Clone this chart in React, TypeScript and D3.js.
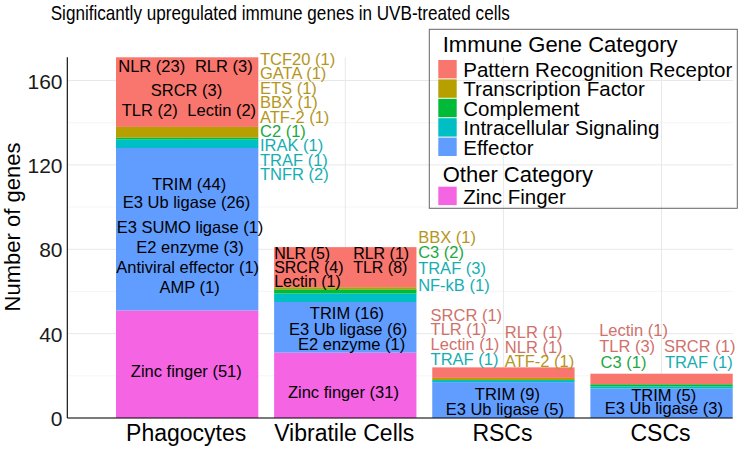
import React from "react";
import * as d3 from "d3";

// ---- data ----
const categories = ["Phagocytes", "Vibratile Cells", "RSCs", "CSCs"];
const seriesKeys = ["zinc", "effector", "intracellular", "complement", "tf", "prr"];
const zincFinger = [51, 31, 0, 0];
const effector = [77, 24, 17, 14];
const intracellularSignaling = [4, 4, 1, 1];
const complement = [1, 2, 0, 1];
const transcriptionFactor = [5, 1, 1, 0];
const patternRecognition = [33, 19, 5, 5];
const yMax = 171;
const yTicks = [0, 40, 80, 120, 160];
const yMinorTicks = [20, 60, 100, 140];
const legendImmuneKeys = ["prr", "tf", "complement", "intracellular", "effector"];
const legendImmuneNames = ["Pattern Recognition Receptor", "Transcription Factor", "Complement", "Intracellular Signaling", "Effector"];
const legendOtherKeys = ["zinc"];
const legendOtherNames = ["Zinc Finger"];
const title = "Significantly upregulated immune genes in UVB-treated cells";
const yTitle = "Number of genes";

const fillColors: Record<string, string> = {
  prr: "#F8766D",
  tf: "#B79F00",
  complement: "#00BA38",
  intracellular: "#00BFC4",
  effector: "#619CFF",
  zinc: "#F564E3",
};
const textColors: Record<string, string> = {
  prr: "#D0716A",
  tf: "#B5961C",
  complement: "#1DA83F",
  intracellular: "#16AEB2",
  in: "#000000",
};

// gene labels: category index, text, colour group, anchor, x offset from band start (px), y in gene units
type Lab = { c: number; t: string; g: string; a: "start" | "middle"; dx: number; v: number; fs?: number };
const geneLabels: Lab[] = [
  { c: 0, t: "NLR (23)", g: "in", a: "middle", dx: 35.7, v: 164.2 },
  { c: 0, t: "RLR (3)", g: "in", a: "middle", dx: 107.8, v: 164.2 },
  { c: 0, t: "SRCR (3)", g: "in", a: "middle", dx: 70.5, v: 152.6 },
  { c: 0, t: "TLR (2)", g: "in", a: "middle", dx: 33.7, v: 143.2 },
  { c: 0, t: "Lectin (2)", g: "in", a: "middle", dx: 105.7, v: 143.2 },
  { c: 0, t: "TRIM (44)", g: "in", a: "middle", dx: 73, v: 108.1 },
  { c: 0, t: "E3 Ub ligase (26)", g: "in", a: "middle", dx: 70.5, v: 99.4 },
  { c: 0, t: "E3 SUMO ligase (1)", g: "in", a: "middle", dx: 74, v: 87.6 },
  { c: 0, t: "E2 enzyme (3)", g: "in", a: "middle", dx: 74, v: 78.1 },
  { c: 0, t: "Antiviral effector (1)", g: "in", a: "middle", dx: 71.7, v: 68.9 },
  { c: 0, t: "AMP (1)", g: "in", a: "middle", dx: 73.7, v: 59.4 },
  { c: 0, t: "Zinc finger (51)", g: "in", a: "middle", dx: 70.3, v: 19.6 },
  { c: 0, t: "TCF20 (1)", g: "tf", a: "start", dx: 144, v: 167.3 },
  { c: 0, t: "GATA (1)", g: "tf", a: "start", dx: 144, v: 160.6 },
  { c: 0, t: "ETS (1)", g: "tf", a: "start", dx: 144, v: 153.6 },
  { c: 0, t: "BBX (1)", g: "tf", a: "start", dx: 144, v: 146.8 },
  { c: 0, t: "ATF-2 (1)", g: "tf", a: "start", dx: 144, v: 140 },
  { c: 0, t: "C2 (1)", g: "complement", a: "start", dx: 144, v: 133.4 },
  { c: 0, t: "IRAK (1)", g: "intracellular", a: "start", dx: 144, v: 126.6 },
  { c: 0, t: "TRAF (1)", g: "intracellular", a: "start", dx: 144, v: 119.5 },
  { c: 0, t: "TNFR (2)", g: "intracellular", a: "start", dx: 144, v: 112.8 },

  { c: 1, t: "NLR (5)", g: "in", a: "start", dx: 0, v: 75.2, fs: 16 },
  { c: 1, t: "RLR (1)", g: "in", a: "start", dx: 79, v: 75.2, fs: 16 },
  { c: 1, t: "SRCR (4)", g: "in", a: "start", dx: 0, v: 68.6, fs: 16 },
  { c: 1, t: "TLR (8)", g: "in", a: "start", dx: 79, v: 68.6, fs: 16 },
  { c: 1, t: "Lectin (1)", g: "in", a: "start", dx: 0, v: 62.2, fs: 16 },
  { c: 1, t: "TRIM (16)", g: "in", a: "middle", dx: 72.8, v: 46.8 },
  { c: 1, t: "E3 Ub ligase (6)", g: "in", a: "middle", dx: 74, v: 39.3 },
  { c: 1, t: "E2 enzyme (1)", g: "in", a: "middle", dx: 77.5, v: 32.2 },
  { c: 1, t: "Zinc finger (31)", g: "in", a: "middle", dx: 69.3, v: 9.6 },
  { c: 1, t: "BBX (1)", g: "tf", a: "start", dx: 144, v: 83 },
  { c: 1, t: "C3 (2)", g: "complement", a: "start", dx: 144, v: 75.9 },
  { c: 1, t: "TRAF (3)", g: "intracellular", a: "start", dx: 144, v: 68.3 },
  { c: 1, t: "NF-kB (1)", g: "intracellular", a: "start", dx: 144, v: 60.2 },

  { c: 2, t: "SRCR (1)", g: "prr", a: "start", dx: -1.7, v: 46.1 },
  { c: 2, t: "TLR (1)", g: "prr", a: "start", dx: -1.7, v: 39.3 },
  { c: 2, t: "Lectin (1)", g: "prr", a: "start", dx: -1.7, v: 32.2 },
  { c: 2, t: "TRAF (1)", g: "intracellular", a: "start", dx: -1.7, v: 25.1 },
  { c: 2, t: "RLR (1)", g: "prr", a: "start", dx: 72.6, v: 37.8 },
  { c: 2, t: "NLR (1)", g: "prr", a: "start", dx: 72.6, v: 31.0 },
  { c: 2, t: "ATF-2 (1)", g: "tf", a: "start", dx: 72.6, v: 24.3 },
  { c: 2, t: "TRIM (9)", g: "in", a: "middle", dx: 75.1, v: 8.5 },
  { c: 2, t: "E3 Ub ligase (5)", g: "in", a: "middle", dx: 72.6, v: 1.4 },

  { c: 3, t: "Lectin (1)", g: "prr", a: "start", dx: 8.8, v: 39 },
  { c: 3, t: "TLR (3)", g: "prr", a: "start", dx: 8.8, v: 31.4 },
  { c: 3, t: "C3 (1)", g: "complement", a: "start", dx: 10.2, v: 23.6 },
  { c: 3, t: "SRCR (1)", g: "prr", a: "start", dx: 73.5, v: 31.4 },
  { c: 3, t: "TRAF (1)", g: "intracellular", a: "start", dx: 74.5, v: 23.6 },
  { c: 3, t: "TRIM (5)", g: "in", a: "middle", dx: 73.3, v: 8.1 },
  { c: 3, t: "E3 Ub ligase (3)", g: "in", a: "middle", dx: 73.5, v: 1.75 },
];

const W = 738;
const H = 449;
const FONT = "'Liberation Sans', Arial, Helvetica, sans-serif";

export default function App() {
  const panelLeft = 67.3;
  const panelRight = 732.7;
  const panelTop = 57.3;
  const panelBottom = 418;

  const x = d3.scaleBand<string>().domain(categories).range([116, 732.7]).paddingInner(0.1).paddingOuter(0);
  const y = d3.scaleLinear().domain([0, yMax]).range([panelBottom, panelTop]);

  const rows = categories.map((cat, i) => ({
    cat,
    zinc: zincFinger[i],
    effector: effector[i],
    intracellular: intracellularSignaling[i],
    complement: complement[i],
    tf: transcriptionFactor[i],
    prr: patternRecognition[i],
  }));
  const stacked = d3.stack<any>().keys(seriesKeys)(rows);

  const keySize = 18.4;
  const keyStep = 19.4;

  return (
    <svg
      width={W}
      height={H}
      style={{ position: "absolute", left: 0, top: 0, background: "#fff" }}
      fontFamily={FONT}
    >
      <rect x={0} y={0} width={W} height={H} fill="#fff" />
      {/* grid */}
      {yMinorTicks.map((t) => (
        <line key={"mn" + t} x1={panelLeft} x2={panelRight} y1={y(t)} y2={y(t)} stroke="#f0f0f0" strokeWidth={0.7} />
      ))}
      {yTicks.map((t) => (
        <line key={"mj" + t} x1={panelLeft} x2={panelRight} y1={y(t)} y2={y(t)} stroke="#e8e8e8" strokeWidth={1} />
      ))}
      {categories.map((c) => (
        <line
          key={"vg" + c}
          x1={x(c)! + x.bandwidth() / 2}
          x2={x(c)! + x.bandwidth() / 2}
          y1={panelTop}
          y2={panelBottom}
          stroke="#e8e8e8"
          strokeWidth={1}
        />
      ))}
      {/* bars */}
      {stacked.map((s) => (
        <g key={s.key} fill={fillColors[s.key]}>
          {s.map((d, i) =>
            d[1] - d[0] > 0 ? (
              <rect
                key={i}
                x={x(categories[i])}
                width={x.bandwidth()}
                y={y(d[1])}
                height={y(d[0]) - y(d[1])}
              />
            ) : null
          )}
        </g>
      ))}
      {/* gene labels */}
      {geneLabels.map((l, i) => (
        <text
          key={"gl" + i}
          x={x(categories[l.c])! + l.dx}
          y={y(l.v)}
          textAnchor={l.a}
          fontSize={l.fs ?? 16.5}
          fill={textColors[l.g]}
        >
          {l.t}
        </text>
      ))}
      {/* axes */}
      <line x1={panelLeft} x2={panelLeft} y1={panelTop} y2={panelBottom} stroke="#000" strokeWidth={1.1} />
      <line x1={panelLeft} x2={panelRight} y1={panelBottom} y2={panelBottom} stroke="#000" strokeWidth={1.1} />
      {yTicks.map((t) => (
        <text key={"yt" + t} x={62.5} y={y(t) + 8} textAnchor="end" fontSize={21} fill="#1a1a1a">
          {t}
        </text>
      ))}
      {categories.map((c) => (
        <text key={"xt" + c} x={x(c)! + x.bandwidth() / 2 - 1} y={441} textAnchor="middle" fontSize={23} fill="#000">
          {c}
        </text>
      ))}
      <text
        transform={`translate(19.5, 227) rotate(-90)`}
        textAnchor="middle"
        fontSize={22}
        fill="#000"
      >
        {yTitle}
      </text>
      {/* title (condensed as in the reference) */}
      <text transform="translate(50.7, 19.5) scale(0.815, 1)" x={0} y={0} fontSize={21} fill="#000">
        {title}
      </text>
      {/* legend */}
      <rect x={429.3} y={29.3} width={308} height={179} fill="none" stroke="#666" strokeWidth={1} />
      <text x={442.7} y={51.7} fontSize={22} fill="#000">
        Immune Gene Category
      </text>
      {legendImmuneKeys.map((k, i) => (
        <g key={"li" + k}>
          <rect x={438.3} y={60 + i * keyStep} width={keySize} height={keySize} fill={fillColors[k]} />
          <text x={463.3} y={60 + i * keyStep + 17} fontSize={20.5} fill="#000">
            {legendImmuneNames[i]}
          </text>
        </g>
      ))}
      <text x={442.7} y={181.7} fontSize={22} fill="#000">
        Other Category
      </text>
      {legendOtherKeys.map((k, i) => (
        <g key={"lo" + k}>
          <rect x={438.3} y={186.7 + i * keyStep} width={keySize} height={keySize} fill={fillColors[k]} />
          <text x={463.3} y={186.7 + i * keyStep + 17} fontSize={20.5} fill="#000">
            {legendOtherNames[i]}
          </text>
        </g>
      ))}
    </svg>
  );
}
